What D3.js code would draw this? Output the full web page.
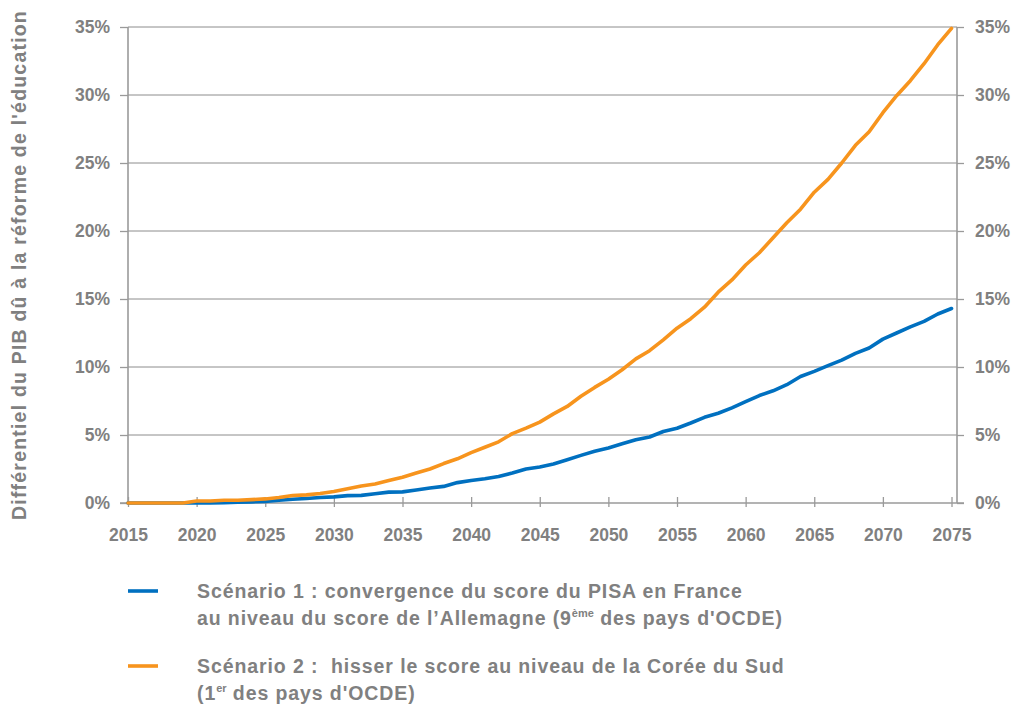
<!DOCTYPE html>
<html><head><meta charset="utf-8">
<script src="https://cdn.jsdelivr.net/npm/d3@7"></script>
<style>
html,body{margin:0;padding:0;background:#fff;}
svg{display:block;font-family:"Liberation Sans",Arial,sans-serif;}
</style></head>
<body>
<svg id="chart" width="1014" height="705"></svg>
<script>
const years = d3.range(2015, 2076);
const scenario1 = [0,0,0,0,0,0,0,0.02,0.05,0.08,0.12,0.2,0.28,0.33,0.4,0.45,0.54,0.56,0.68,0.8,0.82,0.95,1.1,1.22,1.5,1.66,1.78,1.95,2.2,2.5,2.65,2.87,3.18,3.5,3.8,4.04,4.35,4.65,4.85,5.26,5.5,5.88,6.3,6.6,7.0,7.45,7.9,8.25,8.7,9.3,9.68,10.1,10.5,11.0,11.4,12.05,12.5,12.95,13.35,13.9,14.3];
const scenario2 = [0,0,0,0,0,0.15,0.15,0.2,0.2,0.25,0.3,0.4,0.55,0.6,0.7,0.85,1.05,1.25,1.4,1.65,1.9,2.2,2.5,2.9,3.25,3.7,4.1,4.5,5.1,5.5,5.95,6.55,7.1,7.85,8.5,9.1,9.8,10.6,11.2,12.0,12.85,13.55,14.4,15.5,16.4,17.5,18.4,19.5,20.6,21.6,22.85,23.8,25.0,26.3,27.3,28.7,29.95,31.05,32.3,33.7,34.9];
const xTicks = d3.range(2015, 2076, 5);
const yTicks = [0,5,10,15,20,25,30,35];
const yTitle = "Différentiel du PIB dû à la réforme de l'éducation";
const colors = {s1:"#0070c0", s2:"#f7941d"};

const svg = d3.select("#chart");
const L = 128, R = 957, T = 27, B = 503;
const x = d3.scaleLinear().domain([2015, 2075.4]).range([L, R]);
const y = d3.scaleLinear().domain([0, 35]).range([B, T]);
const gray = "#808080", axisCol = "#9a9a9a", gridCol = "#8c8c8c";

// gridlines
svg.append("g").selectAll("line").data(yTicks.filter(d=>d>0)).join("line")
  .attr("x1", L).attr("x2", R).attr("y1", d=>y(d)).attr("y2", d=>y(d))
  .attr("stroke", gridCol).attr("stroke-width", 1);

// left / right axes
const leftAxis = svg.append("g").attr("transform", `translate(${L},0)`)
  .call(d3.axisLeft(y).tickValues(yTicks).tickSize(8).tickPadding(10).tickFormat(d=>d+"%"));
const rightAxis = svg.append("g").attr("transform", `translate(${R},0)`)
  .call(d3.axisRight(y).tickValues(yTicks).tickSize(7).tickPadding(11).tickFormat(d=>d+"%"));
[leftAxis, rightAxis].forEach(g=>{
  g.select(".domain").attr("stroke", axisCol).attr("stroke-width", 1.6).attr("d", `M0,${T}V${B}`);
  g.selectAll(".tick line").attr("stroke", axisCol).attr("stroke-width", 1.3);
  g.selectAll("text").attr("fill", gray).attr("font-size", 17.5).attr("font-weight", "bold");
});

// bottom axis
const bottom = svg.append("g").attr("transform", `translate(0,${B})`)
  .call(d3.axisBottom(x).tickValues(xTicks).tickSize(0).tickPadding(0).tickFormat(d3.format("d")));
bottom.select(".domain").attr("stroke", axisCol).attr("stroke-width", 1.6).attr("d", `M${L-8},0H${R+7}`);
bottom.selectAll(".tick line").remove();
bottom.selectAll(".tick").append("line").attr("y1", -6).attr("y2", 4).attr("stroke", axisCol).attr("stroke-width", 1.3);
bottom.selectAll(".tick text").attr("fill", gray).attr("font-size", 17.5).attr("font-weight", "bold")
  .attr("dy", null).attr("y", 38);

// lines
const line = d3.line().x((d,i)=>x(years[i])).y(d=>y(d));
svg.append("path").datum(scenario1).attr("d", line).attr("fill","none")
  .attr("stroke", colors.s1).attr("stroke-width", 3.6).attr("stroke-linejoin","round").attr("stroke-linecap","round");
svg.append("path").datum(scenario2).attr("d", line).attr("fill","none")
  .attr("stroke", colors.s2).attr("stroke-width", 3.6).attr("stroke-linejoin","round").attr("stroke-linecap","round");

// y title
svg.append("text").attr("transform", "translate(26,265) rotate(-90)")
  .attr("text-anchor","middle").attr("fill", gray).attr("font-size", 19.5).attr("font-weight","bold")
  .attr("letter-spacing", 1.2)
  .text(yTitle);

// legend
const leg = svg.append("g");
const items = [
  {c: colors.s1, ly: 591, lines: [[["Scénario 1 : convergence du score du PISA en France"]], [["au niveau du score de l’Allemagne (9"],["ème", true],[" des pays d'OCDE)"]]], by: 598},
  {c: colors.s2, ly: 666, lines: [[["Scénario 2 :  hisser le score au niveau de la Corée du Sud"]], [["(1"],["er", true],[" des pays d'OCDE)"]]], by: 673}
];
items.forEach(it=>{
  leg.append("line").attr("x1",128).attr("x2",158).attr("y1",it.ly).attr("y2",it.ly)
    .attr("stroke", it.c).attr("stroke-width", 3.6);
  it.lines.forEach((parts, li)=>{
    const t = leg.append("text").attr("x",197).attr("y", it.by + li*27)
      .attr("fill", gray).attr("font-size", 19.5).attr("font-weight","bold")
      .attr("letter-spacing", 0.9).style("white-space","pre");
    parts.forEach(p=>{
      const ts = t.append("tspan").text(p[0]);
      if (p[1]) ts.attr("font-size", 11).attr("dy", -8).attr("letter-spacing", 0);
      else if (t.selectAll("tspan").size()>1) ts.attr("dy", 8);
    });
  });
});
</script>
</body></html>
